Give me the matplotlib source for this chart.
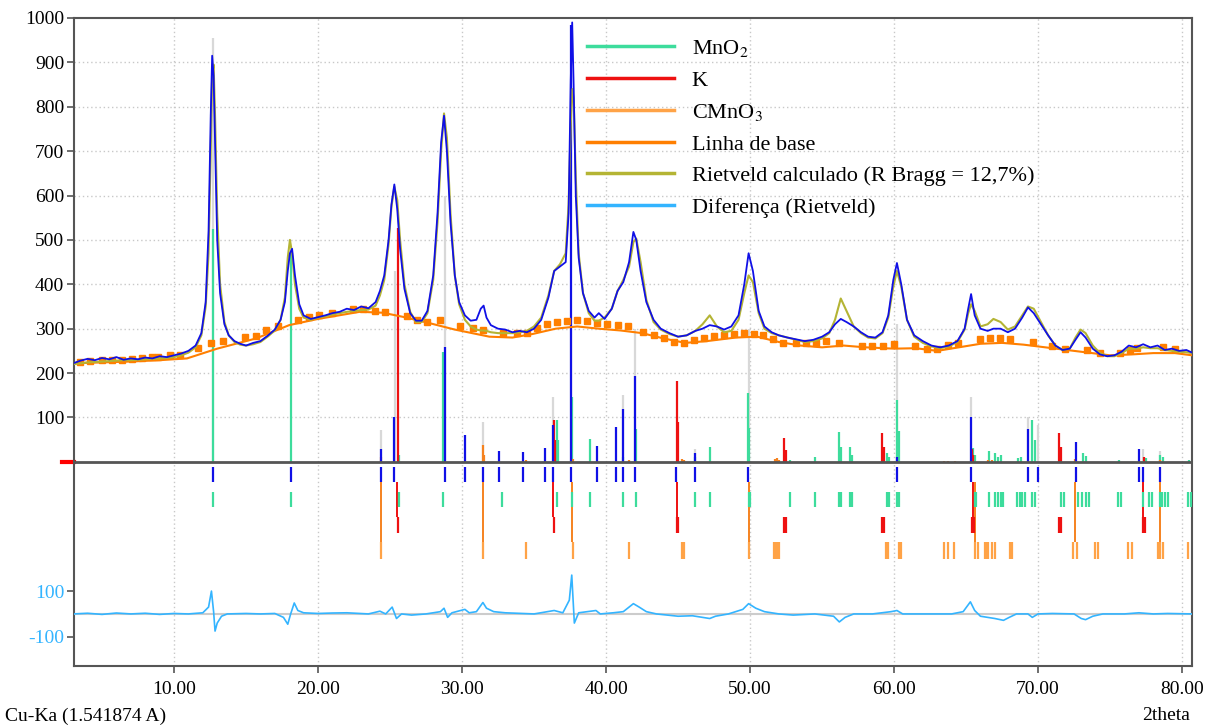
import matplotlib.pyplot as plt
from matplotlib.lines import Line2D

plt.rcParams['font.family'] = ['Liberation Serif', 'DejaVu Serif']
plt.rcParams['mathtext.fontset'] = 'stix'

# ---------------- observed / calculated pattern ----------------
two_theta = [3.0, 3.5, 4.0, 4.5, 5.0, 5.5, 6.0, 6.5, 7.0, 7.5,
             8.0, 8.5, 9.0, 9.5, 10.0, 10.5, 11.0, 11.5, 11.9, 12.2,
             12.4, 12.55, 12.65, 12.75, 12.85, 13.0, 13.2, 13.5, 13.8, 14.2,
             14.6, 15.0, 15.5, 16.0, 16.5, 17.0, 17.4, 17.7, 17.9, 18.05,
             18.2, 18.4, 18.7, 19.0, 19.5, 20.0, 20.5, 21.0, 21.5, 22.0,
             22.5, 23.0, 23.5, 24.0, 24.3, 24.6, 24.9, 25.1, 25.3, 25.5,
             25.7, 26.0, 26.4, 26.8, 27.2, 27.6, 28.0, 28.3, 28.55, 28.75,
             28.95, 29.2, 29.5, 29.8, 30.2, 30.6, 31.0, 31.3, 31.5, 31.7,
             32.0, 32.5, 33.0, 33.5, 34.0, 34.5, 35.0, 35.5, 36.0, 36.4,
             36.8, 37.2, 37.4, 37.55, 37.65, 37.75, 37.9, 38.1, 38.4, 38.8,
             39.2, 39.5, 39.9, 40.4, 40.8, 41.2, 41.6, 41.9, 42.1, 42.4,
             42.8, 43.3, 43.8, 44.4, 45.0, 45.6, 46.2, 46.7, 47.2, 47.7,
             48.2, 48.7, 49.2, 49.6, 49.9, 50.2, 50.6, 51.0, 51.5, 52.0,
             52.6, 53.2, 53.8, 54.4, 55.0, 55.5, 55.9, 56.3, 56.7, 57.2,
             57.7, 58.2, 58.7, 59.2, 59.6, 59.95, 60.2, 60.5, 60.9, 61.4,
             62.0, 62.6, 63.2, 63.8, 64.4, 64.9, 65.15, 65.35, 65.6, 66.0,
             66.5, 66.9, 67.4, 67.9, 68.4, 68.9, 69.3, 69.7, 70.2, 70.7,
             71.2, 71.7, 72.2, 72.6, 72.95, 73.3, 73.8, 74.3, 74.8, 75.3,
             75.8, 76.3, 76.8, 77.3, 77.8, 78.3, 78.8, 79.3, 79.8, 80.3,
             80.7]

observado = [222, 228, 232, 229, 234, 231, 236, 230, 233, 231,
             235, 233, 238, 236, 240, 244, 250, 262, 290, 360,
             520, 780, 915, 870, 720, 500, 380, 310, 285, 272,
             266, 262, 268, 272, 284, 298, 320, 360, 430, 470,
             480, 420, 355, 330, 322, 326, 330, 335, 338, 345,
             342, 350, 346, 360, 385, 420, 500, 580, 625, 570,
             480, 390, 335, 318, 318, 340, 420, 560, 720, 780,
             700, 540, 420, 360, 330, 318, 320, 345, 352, 325,
             308, 300, 298, 292, 295, 292, 300, 320, 370, 430,
             440, 450, 560, 860, 990, 850, 600, 460, 380, 340,
             325, 335, 322, 345, 385, 405, 450, 518, 500, 430,
             360, 320, 300, 290, 282, 285, 295, 300, 308, 305,
             298, 305, 330, 400, 470, 430, 340, 305, 292, 285,
             280, 276, 272, 275, 282, 292, 310, 322, 315, 305,
             292, 282, 280, 292, 330, 410, 448, 400, 320, 285,
             272, 262, 258, 262, 272, 300, 345, 378, 330, 300,
             295, 300, 300, 292, 300, 325, 348, 335, 310, 285,
             262, 252, 255, 275, 292, 280, 255, 242, 238, 240,
             248, 262, 258, 265, 258, 262, 252, 255, 250, 252,
             246]

calculado = [220, 222, 224, 225, 226, 227, 228, 229, 229, 230,
             231, 232, 233, 234, 236, 240, 246, 258, 285, 350,
             470, 700, 870, 895, 780, 560, 400, 315, 285, 270,
             264, 262, 265, 270, 282, 296, 320, 370, 460, 500,
             470, 400, 345, 325, 320, 325, 328, 332, 335, 338,
             340, 342, 343, 352, 375, 410, 490, 575, 620, 590,
             500, 400, 338, 315, 315, 335, 410, 540, 700, 785,
             730, 560, 420, 355, 320, 305, 298, 296, 296, 295,
             292, 290, 290, 290, 292, 295, 305, 325, 375, 430,
             445, 470, 580, 760, 840, 820, 640, 470, 380, 335,
             318, 318, 325, 345, 385, 410, 440, 495, 503, 450,
             365, 315, 298, 288, 282, 285, 295, 310, 330, 305,
             292, 295, 320, 380, 420, 405, 335, 300, 290, 285,
             280, 275, 270, 272, 278, 290, 320, 368, 340, 305,
             290, 280, 278, 290, 325, 395, 430, 395, 320, 282,
             268, 260, 256, 260, 270, 298, 335, 355, 340, 305,
             310, 322, 315, 298, 305, 330, 350, 345, 315, 285,
             262, 252, 255, 280, 298, 290, 262, 245, 238, 238,
             245, 255, 255, 258, 256, 256, 252, 250, 248, 247,
             245]

# ---------------- baseline ----------------
base_x = [3.0, 5.0, 7.0, 9.0, 10.9, 13.0, 15.7, 18.0, 20.0, 22.9, 24.5, 26.0,
          27.8, 29.5, 31.9, 33.5, 34.9, 36.5, 38.0, 39.5, 41.0, 42.5, 44.0,
          45.5, 47.0, 49.0, 50.5, 52.0, 53.5, 55.0, 56.5, 58.0, 60.0, 61.5,
          63.0, 64.5, 66.0, 67.5, 69.0, 70.5, 72.0, 73.5, 75.0, 76.5, 78.0,
          79.5, 80.7]
base_y = [222, 224, 226, 229, 233, 255, 278, 308, 322, 338, 336, 326,
          312, 298, 282, 280, 288, 300, 305, 300, 296, 290, 278,
          268, 272, 280, 282, 270, 262, 258, 262, 258, 255, 256,
          250, 258, 266, 268, 264, 258, 252, 246, 240, 242, 245,
          245, 240]

sq_x = [3.5, 4.2, 5.0, 5.7, 6.4, 7.1, 7.8, 8.5, 8.9, 9.7, 10.4, 11.7, 12.6,
        13.4, 14.9, 15.7, 16.4, 17.2, 18.6, 19.4, 20.1, 20.95, 22.4, 23.1,
        23.96, 24.65, 26.16, 26.9, 27.6, 28.47, 29.86, 30.76, 31.46, 32.85,
        33.8, 34.5, 35.2, 35.9, 36.6, 37.3, 38.0, 38.7, 39.4, 40.1, 40.8,
        41.5, 42.6, 43.3, 44.0, 44.7, 45.4, 46.1, 46.8, 47.5, 48.2, 48.9,
        49.6, 50.3, 50.9, 51.6, 52.3, 53.2, 53.9, 54.6, 55.3, 56.2, 57.75,
        58.45, 59.2, 60.0, 61.46, 62.27, 62.97, 63.77, 64.47, 65.97, 66.67,
        67.36, 68.05, 69.67, 70.95, 71.9, 73.4, 74.3, 75.7, 76.4, 76.9,
        78.7, 79.5]
sq_y = [225, 228, 230, 230, 230, 232, 234, 236, 237, 240, 240, 256, 267,
        272, 282, 283, 297, 306, 319, 327, 330, 335, 344, 344,
        340, 338, 329, 319, 315, 319, 306, 301, 297, 290,
        290, 291, 301, 310, 315, 318, 320, 318, 312, 310, 308,
        305, 293, 285, 278, 270, 268, 275, 280, 283, 286, 289,
        290, 288, 285, 276, 268, 267, 267, 267, 273, 267, 261,
        261, 261, 265, 261, 255, 255, 263, 268, 276, 278,
        278, 276, 270, 261, 255, 252, 246, 246, 252, 256,
        258, 254]

# ---------------- difference ----------------
diff_x = [3.0, 4.0, 5.0, 6.0, 7.0, 8.0, 9.0, 10.0, 11.0, 12.0,
          12.4, 12.6, 12.75, 12.85, 13.0, 13.3, 13.7, 15.0, 16.0, 17.0,
          17.6, 17.9, 18.1, 18.35, 18.6, 19.0, 20.0, 21.0, 22.0, 23.5,
          24.3, 24.7, 25.15, 25.45, 25.8, 26.5, 27.5, 28.5, 28.75, 29.0,
          29.3, 30.2, 30.5, 31.0, 31.45, 31.7, 32.2, 33.0, 35.0, 36.4,
          37.0, 37.45, 37.62, 37.8, 38.1, 39.3, 39.6, 40.5, 41.2, 41.9,
          42.3, 42.8, 43.5, 45.0, 46.0, 47.2, 47.6, 48.5, 49.5, 49.9,
          50.4, 51.0, 52.0, 53.0, 54.5, 55.8, 56.2, 56.6, 57.2, 58.5,
          59.8, 60.2, 60.6, 62.0, 64.0, 64.8, 65.3, 65.6, 66.0, 66.5,
          67.0, 67.6, 68.0, 68.5, 69.3, 69.6, 70.0, 71.0, 72.5, 73.0,
          73.3, 73.8, 74.5, 76.0, 77.0, 78.0, 79.0, 80.7]
diff_y = [0, 3, -2, 4, 0, 3, -2, 2, 0, 5,
          30, 100, 10, -75, -40, -10, 0, 2, 0, 2,
          -15, -45, 0, 48, 15, 5, 2, 4, 5, 0,
          12, 0, 30, -20, 0, -5, 0, 10, 25, -15,
          5, 20, 5, 10, 50, 25, 10, 5, 0, 15,
          5, 60, 170, -40, 5, 15, 0, 5, 10, 45,
          30, 10, 0, -10, -8, -20, -10, 0, 20, 45,
          25, 10, 0, -5, 0, -10, -35, -15, 0, 0,
          10, 15, 0, 0, 0, 10, 53, 15, -10, -15,
          -20, -28, -15, 0, 0, -15, 0, 2, 0, -20,
          -25, -10, 0, 0, 5, 0, 2, 0]

# ---------------- reflections (sticks) ----------------
mno2_pos = [12.73, 18.10, 25.65, 28.70, 28.78, 36.60, 36.65, 37.65, 38.89, 41.18,
            42.05, 46.18, 47.22, 49.88, 49.95, 52.78, 54.50, 56.16, 56.30, 56.94,
            57.10, 59.53, 59.67, 60.20, 60.35, 65.45, 65.60, 66.60, 67.00, 67.20,
            67.40, 68.60, 68.80, 69.60, 69.80, 73.10, 73.30, 75.60, 77.50, 78.50,
            78.70, 80.50]
mno2_h = [525, 470, 15, 248, 124, 95, 50, 146, 51, 10,
          74, 10, 33, 154, 76, 5, 10, 68, 33, 33,
          15, 20, 12, 139, 70, 31, 15, 25, 20, 12,
          15, 8, 12, 95, 49, 20, 13, 5, 8, 15,
          10, 5]

k_pos = [25.53, 36.39, 36.45, 44.91, 45.00, 52.36, 52.50, 59.17, 59.30, 65.40,
         65.50, 71.43, 71.60, 77.35]
k_h = [526, 94, 50, 182, 90, 53, 26, 64, 33, 30, 15, 64, 33, 10]

cmno3_pos = [24.40, 31.48, 31.55, 34.44, 37.68, 41.62, 45.30, 45.44, 51.70, 51.85,
             52.00, 63.50, 63.75, 64.20, 66.50, 66.80, 72.60, 78.50]
cmno3_h = [11, 38, 15, 5, 6, 5, 6, 4, 6, 8, 5, 3, 3, 3, 4, 4, 6, 5]

obs_pk_pos = [24.40, 25.28, 28.84, 30.21, 32.57, 34.26, 35.74, 36.30, 37.57, 39.37,
              40.72, 41.18, 42.00, 46.18, 60.18, 65.32, 69.28, 72.62, 77.01]
obs_pk_h = [28, 101, 259, 60, 24, 22, 32, 83, 985, 35, 79, 119, 193, 20, 12, 101, 75, 44, 30]

gray_pos = [12.68, 24.40, 25.32, 28.82, 31.48, 36.30, 37.60, 41.18, 42.00, 46.18,
            49.90, 60.22, 65.32, 69.28, 70.00, 77.30, 78.47]
gray_h = [955, 71, 430, 600, 90, 146, 300, 150, 300, 28, 300, 310, 146, 101, 83, 30, 25]

# tick marks below zero
obs_tick = [12.73, 18.10, 24.40, 25.28, 28.84, 30.21, 31.48, 32.57, 34.26, 35.74,
            36.30, 37.57, 39.37, 40.72, 41.18, 42.00, 44.87, 46.18, 49.88, 60.18,
            65.32, 69.28, 70.00, 72.62, 77.01, 77.30, 78.47]
mno2_tick = [12.73, 18.10, 25.65, 28.70, 32.76, 36.60, 37.65, 38.89, 41.18, 42.05,
             46.18, 47.22, 49.90, 49.97, 52.78, 54.50, 56.16, 56.30, 56.94, 57.10,
             59.53, 59.67, 60.20, 60.35, 65.60, 65.70, 66.60, 67.00, 67.20, 67.40,
             67.60, 68.56, 68.75, 68.90, 69.10, 69.60, 69.80, 71.60, 71.83, 72.76,
             73.07, 73.33, 73.56, 75.53, 75.76, 77.30, 77.71, 77.94, 78.47, 78.60,
             78.80, 79.00, 80.44, 80.60]
k_tick = [25.53, 36.39, 44.91, 45.00, 52.36, 52.50, 59.17, 59.30, 65.40, 65.55,
          71.43, 71.60, 77.30, 77.42]
cmno3_tick = [24.40, 31.48, 34.44, 37.68, 41.62, 45.30, 45.44, 49.95, 51.69, 51.80,
              51.92, 52.03, 59.42, 59.56, 60.35, 60.49, 63.49, 63.73, 64.18, 65.65,
              65.81, 66.32, 66.48, 66.55, 66.78, 67.00, 68.05, 68.17, 72.45, 72.69,
              73.96, 74.19, 76.27, 76.50, 78.30, 78.47, 78.66, 80.44]
cmno3_link = [24.40, 31.48, 37.65, 49.92, 65.62, 72.60, 78.50]
k_link = [25.50, 36.35, 44.90, 65.45, 77.30]

x_ticks = [10, 20, 30, 40, 50, 60, 70, 80]
y_ticks = [100, 200, 300, 400, 500, 600, 700, 800, 900, 1000]

# colours
C_MNO2 = '#3ddc9c'
C_K = '#ee1111'
C_CMNO3 = '#ffa347'
C_BASE = '#ff7f00'
C_CALC = '#b4b434'
C_DIFF = '#33b4ff'
C_OBS = '#1010e6'
C_GRAY = '#d8d8d8'

DIFF0 = -342.7   # where the difference curve zero sits on the main axis
DIFF_K = 0.515   # scale of the difference curve

fig = plt.figure(figsize=(12.17, 7.28), dpi=100)
ax = fig.add_axes([74 / 1217, 62 / 728, 1118 / 1217, 648 / 728])
ax.set_xlim(3.056, 80.69)
ax.set_ylim(-460, 1000)

# grid
ax.vlines(x_ticks, -460, 1000, colors='#c8c8c8', linestyles=(0, (1, 2)), lw=1, zorder=0)
ax.hlines(y_ticks[:-1], 3.056, 80.69, colors='#c8c8c8', linestyles=(0, (1, 2)), lw=1, zorder=0)

# sticks above zero
ax.vlines(gray_pos, 0, gray_h, colors=C_GRAY, lw=1.6, zorder=1)
ax.vlines(mno2_pos, 0, mno2_h, colors=C_MNO2, lw=1.6, zorder=2)
ax.vlines(k_pos, 0, k_h, colors=C_K, lw=1.6, zorder=2)
ax.vlines(cmno3_pos, 0, cmno3_h, colors='#f5821f', lw=1.6, zorder=2)
ax.vlines(obs_pk_pos, 0, obs_pk_h, colors=C_OBS, lw=1.6, zorder=2)

# tick rows below zero
ax.vlines(cmno3_link, -45, -181, colors='#f5821f', lw=1.4, zorder=2)
ax.vlines(k_link, -45, -125, colors=C_K, lw=1.4, zorder=2)
ax.vlines(obs_tick, -11, -45, colors=C_OBS, lw=1.6, zorder=3)
ax.vlines(mno2_tick, -67, -102, colors=C_MNO2, lw=1.6, zorder=3)
ax.vlines(k_tick, -125, -161, colors=C_K, lw=1.6, zorder=3)
ax.vlines(cmno3_tick, -181, -219, colors=C_CMNO3, lw=1.6, zorder=3)

# zero line
ax.axhline(0, color='#555555', lw=2, zorder=4)

# pattern
ax.plot(base_x, base_y, color=C_BASE, lw=1.5, zorder=5)
ax.plot(sq_x, sq_y, ls='none', marker='s', ms=4.5, color=C_BASE, zorder=5)
ax.plot(two_theta, calculado, color=C_CALC, lw=1.5, zorder=6)
ax.plot(two_theta, observado, color=C_OBS, lw=1.3, zorder=7)

# difference
ax.axhline(DIFF0, color='#cccccc', lw=1.5, zorder=4)
ax.plot(diff_x, [DIFF0 + d * DIFF_K for d in diff_y], color=C_DIFF, lw=1.2, zorder=5)

# axes styling
for s in ax.spines.values():
    s.set_color('#555555')
    s.set_linewidth(1.5)
ax.set_xticks(x_ticks)
ax.set_xticklabels(['%.2f' % v for v in x_ticks])
ax.set_yticks([DIFF0 - 100 * DIFF_K, DIFF0 + 100 * DIFF_K] + y_ticks)
ax.set_yticklabels(['-100', '100'] + [str(v) for v in y_ticks])
ax.tick_params(axis='both', labelsize=14, length=5, width=1.2, color='#555555', direction='out')
ax.tick_params(axis='y', pad=2)
ax.tick_params(axis='x', pad=6)
for lab in ax.get_yticklabels()[:2]:
    lab.set_color(C_DIFF)
ax.plot([-0.011, 0], [0, 0], transform=ax.get_yaxis_transform(), color='red', lw=3, clip_on=False)

# legend
handles = [Line2D([], [], color=C_MNO2, lw=2.5),
           Line2D([], [], color=C_K, lw=2.5),
           Line2D([], [], color=C_CMNO3, lw=2.5),
           Line2D([], [], color=C_BASE, lw=2.5),
           Line2D([], [], color=C_CALC, lw=2.5),
           Line2D([], [], color=C_DIFF, lw=2.5)]
labels = ['MnO$_2$', 'K', 'CMnO$_3$', 'Linha de base',
          'Rietveld calculado (R Bragg = 12,7%)', 'Diferença (Rietveld)']
leg = ax.legend(handles, labels, loc='upper left', bbox_to_anchor=(0.459, 0.969),
                frameon=False, fontsize=16, handlelength=3.9, handletextpad=0.8,
                labelspacing=0.5, borderpad=0, borderaxespad=0)
leg.set_zorder(10)

fig.text(5 / 1217, 1 - 716 / 728, 'Cu-Ka (1.541874 A)', fontsize=14, va='center')
fig.text(1190 / 1217, 1 - 716 / 728, '2theta', fontsize=14, va='center', ha='right')

fig.savefig('out.png', dpi=100)
